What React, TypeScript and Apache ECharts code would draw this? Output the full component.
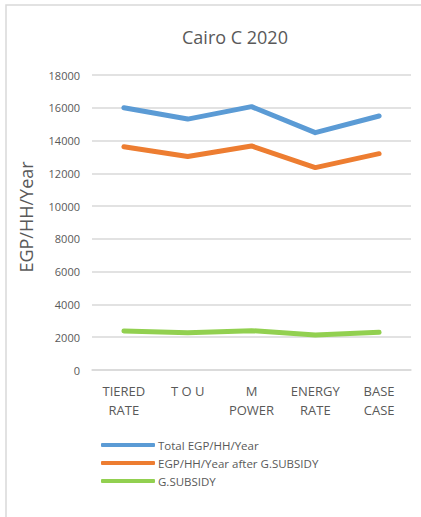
import React, { useEffect, useRef } from "react";
import * as echarts from "echarts";

const categories = ["TIERED\nRATE", "T O U", "M\nPOWER", "ENERGY\nRATE", "BASE\nCASE"];
const totalPerYear = [16000, 15310, 16070, 14480, 15500];
const afterSubsidy = [13620, 13030, 13670, 12350, 13200];
const subsidy = [2380, 2280, 2400, 2130, 2300];
const yTicks = { min: 0, max: 18000, interval: 2000 };

const FONT = "'Open Sans', 'Liberation Sans', sans-serif";
const TEXT = "#595959";

export default function App() {
  const ref = useRef<HTMLDivElement>(null);

  useEffect(() => {
    document.body.style.margin = "0";
    const chart = echarts.init(ref.current!, undefined, { renderer: "svg" });
    const line = (name: string, data: number[], color: string) => ({
      name,
      type: "line",
      data,
      symbol: "none",
      lineStyle: { color, width: 5, cap: "round", join: "round" },
      itemStyle: { color },
    });
    chart.setOption({
      animation: false,
      backgroundColor: "#ffffff",
      textStyle: { fontFamily: FONT },
      title: {
        text: "Cairo C 2020",
        left: 230,
        textAlign: "center",
        top: 23,
        textStyle: { fontFamily: FONT, fontSize: 18, fontWeight: "normal", color: TEXT },
      },
      graphic: [
        {
          type: "rect",
          shape: { x: 6, y: 5, width: 420, height: 520 },
          style: { fill: "none", stroke: "#d9d9d9", lineWidth: 1.5 },
          silent: true,
        },
        {
          type: "text",
          x: 26,
          y: 217,
          rotation: Math.PI / 2,
          style: {
            text: "EGP/HH/Year",
            fontFamily: FONT,
            fontSize: 18,
            fill: TEXT,
            align: "center",
            verticalAlign: "middle",
          },
          silent: true,
        },
      ],
      grid: { left: 92, right: 10, top: 75, bottom: 147 },
      xAxis: {
        type: "category",
        data: categories,
        axisLine: { lineStyle: { color: "#d9d9d9", width: 1.5 } },
        axisTick: { show: false },
        axisLabel: {
          color: TEXT,
          fontSize: 13,
          fontFamily: FONT,
          lineHeight: 19,
          margin: 11,
          interval: 0,
        },
      },
      yAxis: {
        type: "value",
        min: yTicks.min,
        max: yTicks.max,
        interval: yTicks.interval,
        axisLine: { show: false },
        axisTick: { show: false },
        axisLabel: {
          color: TEXT,
          fontSize: 11,
          fontFamily: FONT,
          margin: 12,
          formatter: (v: number) => String(v),
        },
        splitLine: { lineStyle: { color: "#d9d9d9", width: 1.5 } },
      },
      legend: {
        orient: "vertical",
        left: 96,
        top: 434,
        itemWidth: 54,
        itemHeight: 4,
        itemGap: 6,
        icon: "roundRect",
        textStyle: { color: TEXT, fontSize: 11.5, fontFamily: FONT, padding: [0, 0, 0, -2] },
        data: ["Total EGP/HH/Year", "EGP/HH/Year after G.SUBSIDY", "G.SUBSIDY"],
      },
      series: [
        line("Total EGP/HH/Year", totalPerYear, "#5b9bd5"),
        line("EGP/HH/Year after G.SUBSIDY", afterSubsidy, "#ed7d31"),
        line("G.SUBSIDY", subsidy, "#92d050"),
      ],
    });
    return () => chart.dispose();
  }, []);

  return <div ref={ref} style={{ width: 421, height: 517 }} />;
}
